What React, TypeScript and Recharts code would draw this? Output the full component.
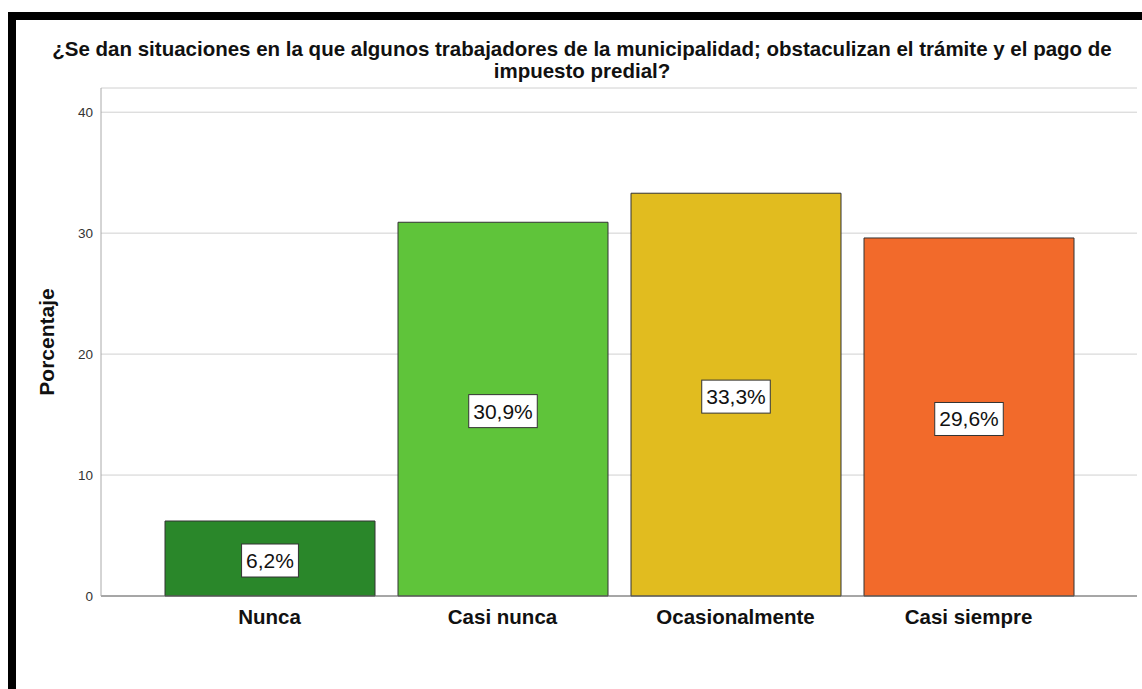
import React from "react";
import { BarChart, Bar, XAxis, YAxis, CartesianGrid, Cell, LabelList } from "recharts";

const categories = ["Nunca", "Casi nunca", "Ocasionalmente", "Casi siempre"];
const percentages = [6.2, 30.9, 33.3, 29.6];
const barColors = ["#2a872a", "#5fc43a", "#e1bc1f", "#f26a2b"];
const yTicks = [0, 10, 20, 30, 40];

const data = categories.map((name, i) => ({ name, value: percentages[i] }));

const FONT = "'Liberation Sans', Arial, sans-serif";

// rough Arial advance widths for the label text
function textWidth(s: string, size: number) {
  let w = 0;
  for (const ch of s) {
    if (ch === ",") w += 0.278;
    else if (ch === "%") w += 0.889;
    else w += 0.556;
  }
  return w * size;
}

function BoxLabel(props: any) {
  const { x, y, width, height, value } = props;
  const text = value.toFixed(1).replace(".", ",") + "%";
  const size = 21;
  const w = textWidth(text, size) + 9;
  const h = 33;
  const cx = x + width / 2;
  const cy = y + height / 2 + 2;
  return (
    <g>
      <rect x={cx - w / 2} y={cy - h / 2} width={w} height={h} fill="#fff" stroke="#333" strokeWidth={1} />
      <text x={cx} y={cy + 7.5} textAnchor="middle" fontSize={size} fontFamily={FONT} fill="#111">
        {text}
      </text>
    </g>
  );
}

export default function App() {
  return (
    <div style={{ position: "absolute", left: 0, top: 0, width: 1142, height: 689, background: "#fff", fontFamily: FONT }}>
      <div style={{ position: "absolute", left: 8, top: 12, width: 1134, height: 677, borderLeft: "8px solid #000", borderTop: "8px solid #000", boxSizing: "border-box" }} />
      <div
        style={{
          position: "absolute",
          left: 20,
          width: 1124,
          top: 38,
          textAlign: "center",
          fontWeight: "bold",
          fontSize: 20.5,
          lineHeight: "22px",
          color: "#111",
          whiteSpace: "nowrap",
        }}
      >
        ¿Se dan situaciones en la que algunos trabajadores de la municipalidad; obstaculizan el trámite y el pago de
        <br />
        impuesto predial?
      </div>
      <BarChart
        width={1142}
        height={689}
        data={data}
        margin={{ top: 88, right: 5, left: 0, bottom: 63 }}
        style={{ position: "absolute", left: 0, top: 0 }}
      >
        <CartesianGrid vertical={false} stroke="#d0d0d0" />
        <XAxis
          dataKey="name"
          stroke="#666"
          tickLine={false}
          tickMargin={7}
          padding={{ left: 52, right: 52 }}
          tick={{ fill: "#111", fontSize: 20.5, fontWeight: "bold", fontFamily: FONT }}
        />
        <YAxis
          width={101}
          domain={[0, 42]}
          ticks={yTicks}
          stroke="#aaa"
          tickLine={false}
          tick={{ fill: "#333", fontSize: 13.5, fontFamily: FONT }}
          label={{
            value: "Porcentaje",
            angle: -90,
            position: "center",
            dx: -3.5,
            style: { fontWeight: "bold", fontSize: 21, fill: "#111", fontFamily: FONT },
          }}
        />
        <Bar dataKey="value" barSize={210} stroke="#333" strokeWidth={1} isAnimationActive={false}>
          {data.map((d, i) => (
            <Cell key={d.name} fill={barColors[i]} />
          ))}
          <LabelList dataKey="value" content={<BoxLabel />} />
        </Bar>
      </BarChart>
    </div>
  );
}
